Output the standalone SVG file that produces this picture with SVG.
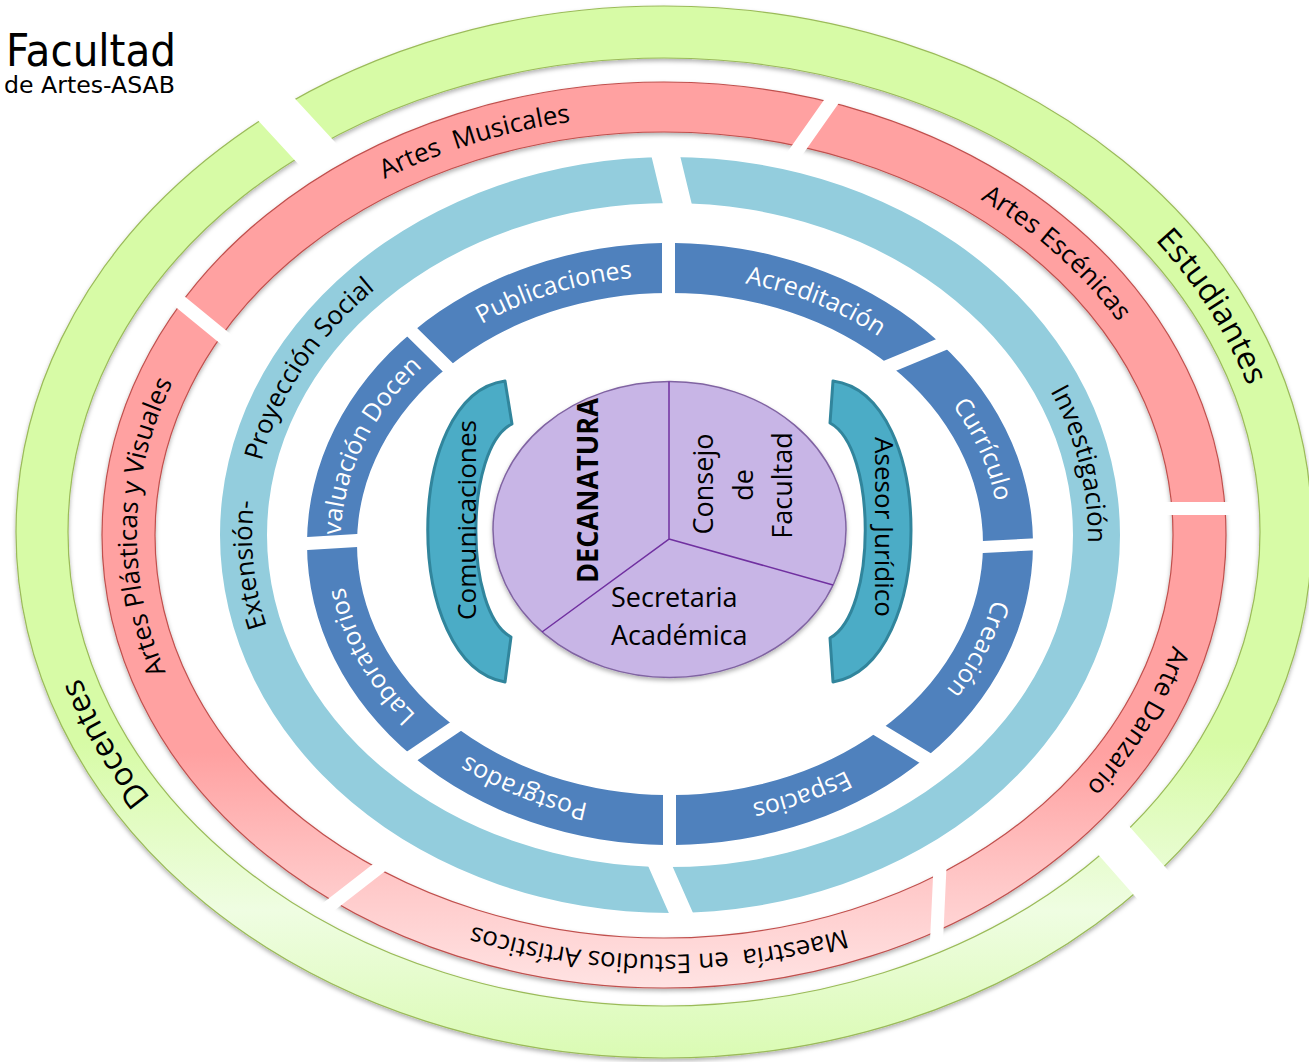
<svg xmlns="http://www.w3.org/2000/svg" width="1309" height="1062" viewBox="0 0 1309 1062">
<style>
  .f { font-family: "Open Sans", "Noto Sans", "DejaVu Sans", sans-serif; }
  .ring-g { fill: url(#gG); stroke: #9bbb59; stroke-width: 1.2; }
  .ring-r { fill: url(#gR); stroke: #c0504d; stroke-width: 1.2; }
  .ring-lb { fill: #93cddd; }
  .ring-db { fill: #4f81bd; }
  .lg { font-size: 32px; fill: #000; }
  .lr { font-size: 26px; fill: #000; }
  .llb { font-size: 26px; fill: #000; }
  .ldb { font-size: 25px; fill: #fff; }
  .teal { fill: #4bacc6; stroke: #31859c; stroke-width: 3; stroke-linejoin: round; }
  .ctr { font-size: 27px; fill: #000; }
</style>
<defs>
  <linearGradient id="gG" gradientUnits="userSpaceOnUse" x1="0" y1="6" x2="0" y2="1058">
    <stop offset="0" stop-color="#d7fba6"/>
    <stop offset="0.7" stop-color="#d7fba6"/>
    <stop offset="0.86" stop-color="#effde2"/>
    <stop offset="1" stop-color="#dafbb3"/>
  </linearGradient>
  <linearGradient id="gR" gradientUnits="userSpaceOnUse" x1="0" y1="82" x2="0" y2="988">
    <stop offset="0" stop-color="#ffa1a1"/>
    <stop offset="0.74" stop-color="#ffa1a1"/>
    <stop offset="0.9" stop-color="#ffcccc"/>
    <stop offset="1" stop-color="#ffe3e3"/>
  </linearGradient>
  <filter id="sh" x="-5%" y="-5%" width="110%" height="112%">
    <feDropShadow dx="0" dy="2.5" stdDeviation="2" flood-color="#000" flood-opacity="0.3"/>
  </filter>

  <path id="ringG" fill-rule="evenodd" d="M16,532 A648,526 0 1 1 1312,532 A648,526 0 1 1 16,532 Z M68,532 A596,474 0 1 1 1260,532 A596,474 0 1 1 68,532 Z"/>
  <path id="ringR" fill-rule="evenodd" d="M102,535 A562,453 0 1 1 1226,535 A562,453 0 1 1 102,535 Z M155,535 A509,403 0 1 1 1173,535 A509,403 0 1 1 155,535 Z"/>
  <path id="ringLB" fill-rule="evenodd" d="M220,535 A450,378 0 1 1 1120,535 A450,378 0 1 1 220,535 Z M267,535 A403,332 0 1 1 1073,535 A403,332 0 1 1 267,535 Z"/>
  <path id="ringDB" fill-rule="evenodd" d="M307,544 A363,301 0 1 1 1033,544 A363,301 0 1 1 307,544 Z M357,544 A313,251 0 1 1 983,544 A313,251 0 1 1 357,544 Z"/>

  <clipPath id="c-est"><polygon points="664,532 346.5,154.6 -1385.8,-1723.3 670,-8465 7034,-5829 9670,535 7034,6899 2801.5,2723.7 1112.7,807.5"/></clipPath>
  <clipPath id="c-doc"><polygon points="664,532 1081.2,835.3 2770,2751.5 670,9535 -5694,6899 -8330,535 -5694,-5829 -1416.6,-1694.9 315.7,183"/></clipPath>

  <clipPath id="c-esc"><polygon points="664,535 791.95,169.8 2545.7,-2325.1 7034,-5829 4199,502 1149,502"/></clipPath>
  <clipPath id="c-dan"><polygon points="664,535 1149,515 4199,515 9670,535 7034,6899 803.8,3900.5 947.15,853.55"/></clipPath>
  <clipPath id="c-mae"><polygon points="664,535 934.15,852.95 790.8,3899.9 670,9535 -5694,6899 -2009.4,2729.2 400.1,859.55"/></clipPath>
  <clipPath id="c-pla"><polygon points="664,535 392.1,849.35 -2017.4,2719 -8330,535 -2123.5,-1578.6 234.15,355.1"/></clipPath>
  <clipPath id="c-mus"><polygon points="664,535 242.95,344.3 -2114.7,-1589.4 -5694,-5829 670,-8465 2534.3,-2333.1 780.55,161.8"/></clipPath>

  <clipPath id="c-inv"><polygon points="670,535 697.3,227.1 -17.9,-2737.5 670,-8465 7034,-5829 9670,535 7034,6899 1890.1,3631.1 661,840.35"/></clipPath>
  <clipPath id="c-ext"><polygon points="670,535 640.75,849.15 1869.9,3639.9 670,9535 -5694,6899 -8330,535 -5694,-5829 -45.1,-2731 670.1,233.6"/></clipPath>

  <clipPath id="c-acr"><polygon points="670,544 675,318 675,-2732 7034,-5829 3679.8,-798.2 861.6,370"/></clipPath>
  <clipPath id="c-cur"><polygon points="670,544 867,382.85 3685.2,-785.3 4004,389.8 957.76,542.26"/></clipPath>
  <clipPath id="c-cre"><polygon points="670,544 958.36,554.24 4004.7,401.7 9670,535 3473.2,2291.3 863.6,712.6"/></clipPath>
  <clipPath id="c-esp"><polygon points="670,544 856.35,724.6 3466,2303.3 7034,6899 676,3820 676,770"/></clipPath>
  <clipPath id="c-pos"><polygon points="670,544 663,770 663,3820 -5694,6899 -2049.9,2427.9 477.07,719.89"/></clipPath>
  <clipPath id="c-lab"><polygon points="670,544 469.79,709.11 -2057.1,2417.1 -2662.2,728.5 382.3,545.49"/></clipPath>
  <clipPath id="c-eva"><polygon points="670,544 381.5,532.5 -2663,715.5 -8330,535 -1711.6,-1749.7 461.8,390.2"/></clipPath>
  <clipPath id="c-pub"><polygon points="670,544 470.9,380.95 -1702.5,-1759 -5694,-5829 662,-2732 662,318"/></clipPath>

  <path id="p-est" d="M1126.9,212.2 A611.5,489.5 0 0 1 1260.3,423.6"/>
  <path id="p-doc" d="M170.5,821.1 A611.5,489.5 0 0 1 70.2,648.7"/>
  <path id="p-mus" d="M356.4,194.1 A527.25,419.75 0 0 1 602.5,118.1"/>
  <path id="p-esc" d="M952.7,183.8 A527.25,419.75 0 0 1 1136.3,348.4"/>
  <path id="p-pla" d="M185.4,711.1 A527.25,419.75 0 0 1 194.2,344.4"/>
  <path id="p-dan" d="M1180.4,619.7 A527.25,419.75 0 0 1 1067.1,805.6"/>
  <path id="p-mae" d="M900.1,910.3 A527.25,419.75 0 0 1 418.1,906.3"/>
  <path id="p-inv" d="M1033.7,364.4 A417.9,346.4 0 0 1 1085.2,574.2"/>
  <path id="p-ext" d="M292.8,684.1 A417.9,346.4 0 0 1 427.3,253"/>
  <path id="p-pub" d="M456.3,340.1 A329.75,267.75 0 0 1 662,276.3"/>
  <path id="p-acr" d="M708.5,278.1 A329.75,267.75 0 0 1 908.4,359"/>
  <path id="p-cur" d="M938.1,388.1 A329.75,267.75 0 0 1 998.8,523.5"/>
  <path id="p-cre" d="M996.5,581.3 A329.75,267.75 0 0 1 934,704.4"/>
  <path id="p-esp" d="M863.4,760.9 A329.75,267.75 0 0 1 732.4,806.9"/>
  <path id="p-pos" d="M612.2,807.6 A329.75,267.75 0 0 1 447.2,741.4"/>
  <path id="p-lab" d="M439.7,735.6 A329.75,267.75 0 0 1 340.6,555.7"/>
  <path id="p-eva" d="M341.5,566.9 A329.75,267.75 0 0 1 436.4,355"/>
</defs>

<rect width="1309" height="1062" fill="#ffffff"/>

<g id="logo" font-family="'DejaVu Sans', 'Liberation Sans', sans-serif" fill="#000">
  <text x="6" y="66" font-size="45" textLength="170" lengthAdjust="spacingAndGlyphs">Facultad</text>
  <text x="4" y="93" font-size="23" textLength="171" lengthAdjust="spacingAndGlyphs">de Artes-ASAB</text>
</g>

<g id="node-estudiantes">
  <use href="#ringG" class="ring-g" clip-path="url(#c-est)" filter="url(#sh)"/>
  <text class="f lg"><textPath href="#p-est" startOffset="50%" text-anchor="middle">Estudiantes</textPath></text>
</g>
<g id="node-docentes">
  <use href="#ringG" class="ring-g" clip-path="url(#c-doc)" filter="url(#sh)"/>
  <text class="f lg"><textPath href="#p-doc" startOffset="50%" text-anchor="middle">Docentes</textPath></text>
</g>

<g id="node-artes-escenicas">
  <use href="#ringR" class="ring-r" clip-path="url(#c-esc)" filter="url(#sh)"/>
  <text class="f lr"><textPath href="#p-esc" startOffset="50%" text-anchor="middle">Artes Escénicas</textPath></text>
</g>
<g id="node-arte-danzario">
  <use href="#ringR" class="ring-r" clip-path="url(#c-dan)" filter="url(#sh)"/>
  <text class="f lr"><textPath href="#p-dan" startOffset="50%" text-anchor="middle">Arte Danzario</textPath></text>
</g>
<g id="node-maestria">
  <use href="#ringR" class="ring-r" clip-path="url(#c-mae)" filter="url(#sh)"/>
  <text class="f lr" font-size="26.5" xml:space="preserve"><textPath href="#p-mae" startOffset="50%" text-anchor="middle">Maestría  en Estudios Artísticos</textPath></text>
</g>
<g id="node-artes-plasticas">
  <use href="#ringR" class="ring-r" clip-path="url(#c-pla)" filter="url(#sh)"/>
  <text class="f lr" font-size="26.5"><textPath href="#p-pla" startOffset="50%" text-anchor="middle">Artes Plásticas y Visuales</textPath></text>
</g>
<g id="node-artes-musicales">
  <use href="#ringR" class="ring-r" clip-path="url(#c-mus)" filter="url(#sh)"/>
  <text class="f lr" xml:space="preserve"><textPath href="#p-mus" startOffset="50%" text-anchor="middle">Artes  Musicales</textPath></text>
</g>

<g id="node-investigacion">
  <use href="#ringLB" class="ring-lb" clip-path="url(#c-inv)"/>
  <text class="f llb"><textPath href="#p-inv" startOffset="50%" text-anchor="middle">Investigación</textPath></text>
</g>
<g id="node-extension">
  <use href="#ringLB" class="ring-lb" clip-path="url(#c-ext)"/>
  <text class="f llb" xml:space="preserve"><textPath href="#p-ext" startOffset="50%" text-anchor="middle">Extensión-      Proyección Social</textPath></text>
</g>

<g id="node-acreditacion">
  <use href="#ringDB" class="ring-db" clip-path="url(#c-acr)"/>
  <text class="f ldb"><textPath href="#p-acr" startOffset="50%" text-anchor="middle">Acreditación</textPath></text>
</g>
<g id="node-curriculo">
  <use href="#ringDB" class="ring-db" clip-path="url(#c-cur)"/>
  <text class="f ldb"><textPath href="#p-cur" startOffset="50%" text-anchor="middle">Currículo</textPath></text>
</g>
<g id="node-creacion">
  <use href="#ringDB" class="ring-db" clip-path="url(#c-cre)"/>
  <text class="f ldb"><textPath href="#p-cre" startOffset="50%" text-anchor="middle">Creación</textPath></text>
</g>
<g id="node-espacios">
  <use href="#ringDB" class="ring-db" clip-path="url(#c-esp)"/>
  <text class="f ldb"><textPath href="#p-esp" startOffset="50%" text-anchor="middle">Espacios</textPath></text>
</g>
<g id="node-postgrados">
  <use href="#ringDB" class="ring-db" clip-path="url(#c-pos)"/>
  <text class="f ldb"><textPath href="#p-pos" startOffset="50%" text-anchor="middle">Postgrados</textPath></text>
</g>
<g id="node-laboratorios">
  <use href="#ringDB" class="ring-db" clip-path="url(#c-lab)"/>
  <text class="f ldb"><textPath href="#p-lab" startOffset="50%" text-anchor="middle">Laboratorios</textPath></text>
</g>
<g id="node-evaluacion-docente">
  <use href="#ringDB" class="ring-db" clip-path="url(#c-eva)"/>
  <text class="f ldb"><textPath href="#p-eva" startOffset="50%" text-anchor="middle">Evaluación Docen</textPath></text>
</g>
<g id="node-publicaciones">
  <use href="#ringDB" class="ring-db" clip-path="url(#c-pub)"/>
  <text class="f ldb"><textPath href="#p-pub" startOffset="50%" text-anchor="middle">Publicaciones</textPath></text>
</g>

<g id="node-comunicaciones">
  <path class="teal" d="M505,381 L512,424 C464,448 464,612 511,637 L505,682 C402,664 402,395 505,381 Z"/>
  <text class="f" font-size="26" fill="#000" transform="translate(476,520) rotate(-90)" text-anchor="middle" textLength="200" lengthAdjust="spacingAndGlyphs">Comunicaciones</text>
</g>
<g id="node-asesor-juridico">
  <path class="teal" d="M833,381 L830,423 C877,448 877,612 830,638 L833,682 C937,664 937,395 833,381 Z"/>
  <text class="f" font-size="26" fill="#000" transform="translate(875,527) rotate(90)" text-anchor="middle" textLength="180" lengthAdjust="spacingAndGlyphs">Asesor Jurídico</text>
</g>

<g id="node-centro">
  <ellipse cx="669.5" cy="529.5" rx="176.5" ry="148" fill="#c8b5e6" stroke="#8064a2" stroke-width="1.5" filter="url(#sh)"/>
  <path d="M669,381.5 L669,539 L542,632 M669,539 L833,585" fill="none" stroke="#7030a0" stroke-width="1.5"/>
  <g id="node-decanatura">
    <text class="f" font-size="28" font-weight="bold" fill="#000" transform="translate(598,490.5) rotate(-90)" text-anchor="middle" textLength="185" lengthAdjust="spacingAndGlyphs">DECANATURA</text>
  </g>
  <g id="node-consejo">
    <text class="f ctr" transform="translate(713,484) rotate(-90)" text-anchor="middle">Consejo</text>
    <text class="f ctr" transform="translate(753,485) rotate(-90)" text-anchor="middle">de</text>
    <text class="f ctr" transform="translate(792,485.5) rotate(-90)" text-anchor="middle">Facultad</text>
  </g>
  <g id="node-secretaria">
    <text class="f ctr" x="611" y="607">Secretaria</text>
    <text class="f ctr" x="611" y="645">Académica</text>
  </g>
</g>

<g id="connectors"></g>
</svg>
